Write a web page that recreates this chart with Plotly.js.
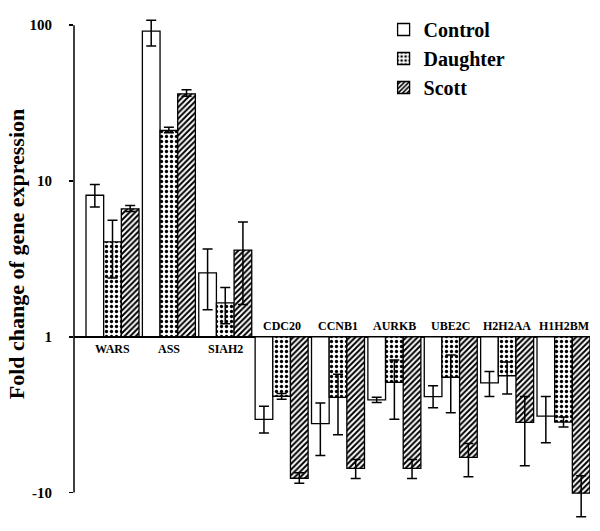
<!DOCTYPE html>
<html>
<head>
<meta charset="utf-8">
<script src="https://cdn.plot.ly/plotly-3.0.1.min.js"></script>
<style>html,body{margin:0;padding:0;background:#fff;}#chart{width:600px;height:531px;}</style>
</head>
<body>
<div id="chart"></div>
<script>
// Gene categories
const genes = ['WARS','ASS','SIAH2','CDC20','CCNB1','AURKB','UBE2C','H2H2AA','H1H2BM'];
// Fold changes (negative = fold down-regulation); Hi/Lo = error bar ends (upper / lower on chart)
const controlFold = [8.1, 91.6, 2.57, -3.39, -3.61, -2.54, -2.42, -1.98, -3.23];
const controlHi   = [9.5, 107.6, 3.66, -2.79, -2.66, -2.45, -2.06, -1.67, -2.42];
const controlLo   = [6.8, 73.5, 1.49, -4.15, -5.78, -2.64, -2.86, -2.42, -4.8];
const daughterFold = [4.07, 21.1, 1.65, -2.41, -2.45, -1.96, -1.82, -1.78, -3.53];
const daughterHi   = [5.6, 22.1, 2.07, -2.31, -1.74, -1.41, -1.31, -1.45, -3.28];
const daughterLo   = [2.38, 20.4, 1.21, -2.52, -4.25, -3.39, -3.08, -2.33, -3.8];
const scottFold = [6.63, 36.3, 3.6, -8.1, -7.0, -7.0, -5.95, -3.55, -10.1];
const scottHi   = [6.97, 38.5, 5.46, -7.46, -6.13, -6.13, -4.85, -2.42, -7.8];
const scottLo   = [6.38, 35.0, 1.61, -8.71, -8.14, -8.14, -7.91, -6.73, -14.3];
// Y tick labels
const tickFolds = [100, 10, 1, -10];
const tickLabels = ['100', '10', '1', '-10'];

// signed log10 scale: fold 1 -> 0, +10 -> 1, -10 -> -1
const f = v => v > 0 ? Math.log10(v) : -Math.log10(-v);

const FONT = 'Liberation Serif, Times New Roman, serif';

function mk(name, fold, hi, lo, pattern) {
  const y = fold.map(f);
  return {
    type: 'bar', name: name, x: genes, y: y,
    marker: {color: 'white', line: {color: 'black', width: 1.3}, pattern: pattern},
    error_y: {
      type: 'data', symmetric: false,
      array: hi.map((h, i) => f(h) - y[i]),
      arrayminus: lo.map((l, i) => y[i] - f(l)),
      color: 'black', thickness: 1.5, width: 5
    },
    hoverinfo: 'skip'
  };
}

const data = [
  mk('Control', controlFold, controlHi, controlLo, {shape: ''}),
  mk('Daughter', daughterFold, daughterHi, daughterLo, {shape: '.', fgcolor: 'black', bgcolor: 'white', size: 5, solidity: 0.35}),
  mk('Scott', scottFold, scottHi, scottLo, {shape: '/', fgcolor: 'black', bgcolor: 'white', size: 4, solidity: 0.5})
];

const annotations = genes.map((g, i) => {
  const up = controlFold[i] > 0;
  return {
    x: g, y: 0, xref: 'x', yref: 'y', text: g, showarrow: false,
    yshift: up ? -12 : 11,
    font: {family: FONT, size: 12, color: 'black', weight: 'bold'}
  };
});
annotations.push({
  xref: 'paper', yref: 'paper', x: -0.112, y: 0.53, xanchor: 'center', yanchor: 'middle',
  text: 'Fold change of gene expression', textangle: -90, showarrow: false,
  font: {family: FONT, size: 22, color: 'black', weight: 'bold'}
});

const layout = {
  width: 600, height: 531,
  margin: {l: 74, r: 10, t: 15, b: 12},
  paper_bgcolor: 'white', plot_bgcolor: 'white',
  barmode: 'group', bargap: 0.06, bargroupgap: 0,
  showlegend: true,
  legend: {
    x: 0.6, y: 1.018, xanchor: 'left', yanchor: 'top',
    bgcolor: 'rgba(0,0,0,0)',
    font: {family: FONT, size: 20, color: 'black', weight: 'bold'},
    tracegroupgap: 0
  },
  xaxis: {
    range: [-0.683, 8.47], showticklabels: false, ticks: '', showgrid: false,
    zeroline: false, showline: false
  },
  yaxis: {
    range: [-1.17, 2.04],
    tickvals: tickFolds.map(f), ticktext: tickLabels,
    ticks: 'outside', ticklen: 4, tickwidth: 1.5, tickcolor: 'black',
    ticklabelstandoff: 14,
    tickfont: {family: FONT, size: 15, color: 'black', weight: 'bold'},
    showgrid: false, showline: false,
    zeroline: true, zerolinecolor: 'black', zerolinewidth: 1.5
  },
  shapes: [
    {type: 'line', xref: 'paper', yref: 'y', x0: 0, x1: 0, y0: f(-10), y1: f(100),
     line: {color: 'black', width: 1.5}}
  ],
  annotations: annotations
};

Plotly.newPlot('chart', data, layout, {staticPlot: true, displayModeBar: false});
</script>
</body>
</html>
